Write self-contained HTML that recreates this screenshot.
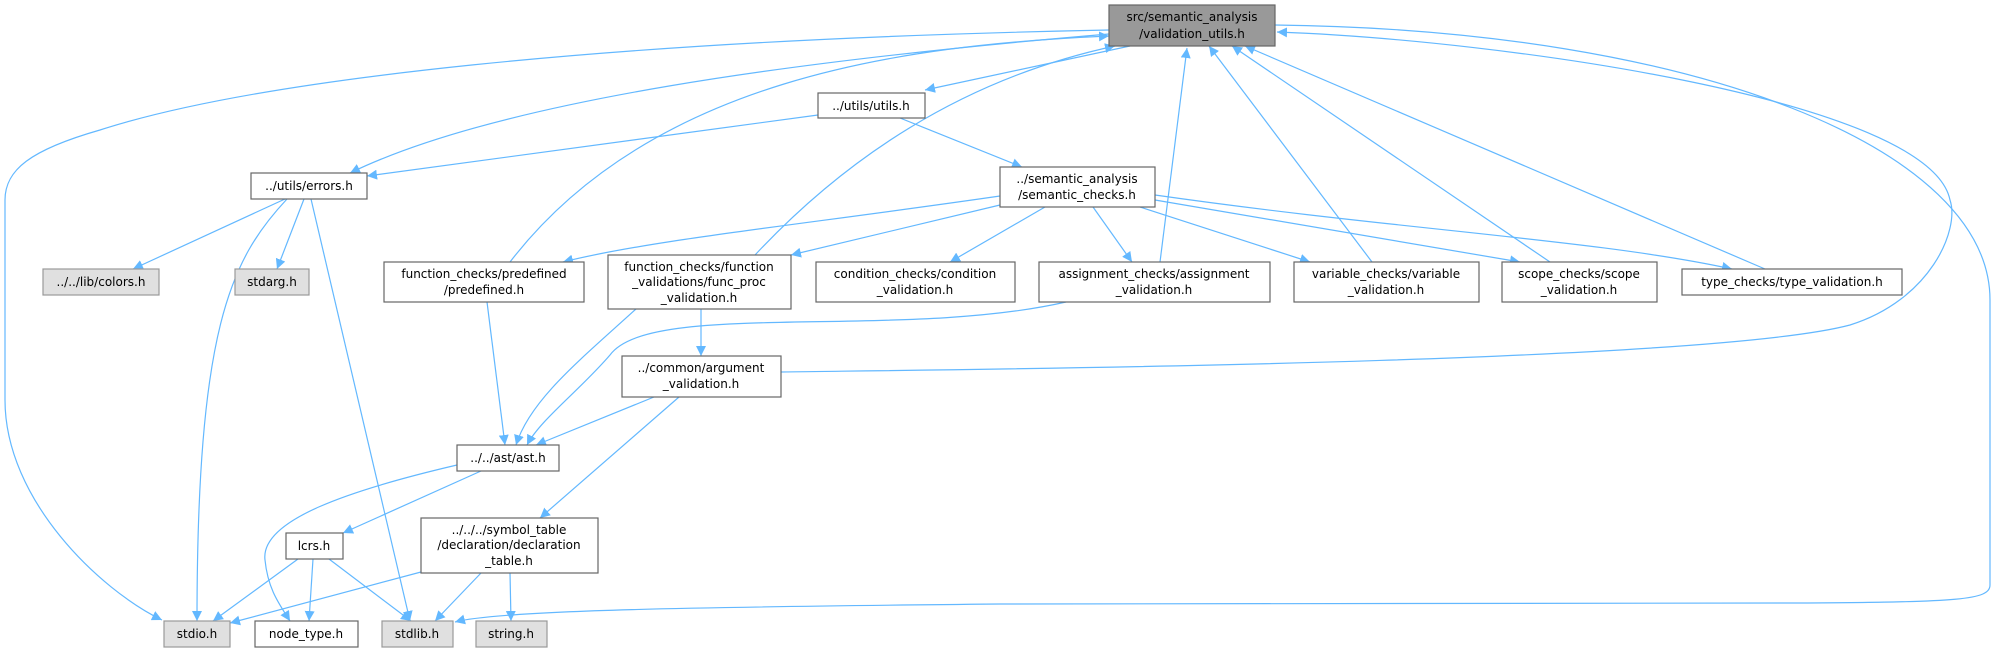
<!DOCTYPE html>
<html><head><meta charset="utf-8"><style>html,body{margin:0;padding:0;background:#fff;}svg{display:block}</style></head>
<body>
<svg width="1996" height="652" viewBox="0 0 1996 652" xmlns="http://www.w3.org/2000/svg" font-family="DejaVu Sans, Liberation Sans, sans-serif" font-size="12">
<defs>
<marker id="a" viewBox="0 0 10 10" refX="10" refY="5" markerWidth="10" markerHeight="10" markerUnits="userSpaceOnUse" orient="auto">
<path d="M0,0 L10,5 L0,10 z" fill="#63b8ff"/></marker>
</defs>
<g fill="none" stroke="#63b8ff" stroke-width="1.2" marker-end="url(#a)">
<path d="M1109,30 C600,40 255,80 100,130 C30,150 5,170 5,200 L5,400 C5,500 100,590 162,620"/>
<path d="M1275,25 C1700,30 1990,150 1990,300 L1990,585 C1990,600 1960,602 1800,603 L1000,604 C700,607 500,610 455,622"/>
<path d="M781,372 C900,370 1700,365 1850,325 C1930,300 1960,230 1950,200 C1930,100 1500,40 1277,32"/>
<path d="M1130,46 L925,90"/>
<path d="M1109,34 C800,60 500,100 350,173"/>
<path d="M510,262 C650,80 900,45 1109,36"/>
<path d="M755,255 C900,100 1050,60 1115,46"/>
<path d="M1160,262 L1187,48"/>
<path d="M1372,262 L1209,46"/>
<path d="M1550,262 L1232,46"/>
<path d="M1765,269 L1245,46"/>
<path d="M818,115 L367,176"/>
<path d="M900,118 L1022,167"/>
<path d="M1000,196 C800,225 650,240 563,262"/>
<path d="M1000,205 L791,255"/>
<path d="M1045,207 L950,262"/>
<path d="M1093,207 L1132,262"/>
<path d="M1140,207 L1310,262"/>
<path d="M1155,200 L1520,262"/>
<path d="M1155,195 C1400,230 1600,240 1732,269"/>
<path d="M285,199 L133,269"/>
<path d="M287,199 C230,260 197,330 197,621"/>
<path d="M304,199 L277,269"/>
<path d="M311,199 L410,621"/>
<path d="M487,302 L505,445"/>
<path d="M636,309 C580,360 530,400 516,445"/>
<path d="M701,309 L701,356"/>
<path d="M1066,302 C900,340 650,300 610,355 C580,390 540,420 527,445"/>
<path d="M654,397 L536,445"/>
<path d="M679,397 L540,518"/>
<path d="M481,471 L343,533"/>
<path d="M457,465 C350,490 260,520 265,560 C268,590 280,605 290,621"/>
<path d="M298,559 L213,621"/>
<path d="M313,559 L309,621"/>
<path d="M329,559 L411,621"/>
<path d="M421,572 L230,623"/>
<path d="M481,573 L435,621"/>
<path d="M510,573 L511,621"/>
</g>
<g stroke-width="1.2">
<rect x="1109" y="5" width="166" height="41" fill="#999" stroke="#666"/>
<rect x="818" y="93" width="107" height="25" fill="#fff" stroke="#666"/>
<rect x="251" y="173" width="116" height="26" fill="#fff" stroke="#666"/>
<rect x="1000" y="167" width="155" height="40" fill="#fff" stroke="#666"/>
<rect x="43" y="269" width="116" height="26" fill="#e0e0e0" stroke="#999"/>
<rect x="235" y="269" width="74" height="26" fill="#e0e0e0" stroke="#999"/>
<rect x="384" y="262" width="200" height="40" fill="#fff" stroke="#666"/>
<rect x="608" y="255" width="183" height="54" fill="#fff" stroke="#666"/>
<rect x="816" y="262" width="199" height="40" fill="#fff" stroke="#666"/>
<rect x="1039" y="262" width="231" height="40" fill="#fff" stroke="#666"/>
<rect x="1294" y="262" width="185" height="40" fill="#fff" stroke="#666"/>
<rect x="1502" y="262" width="155" height="40" fill="#fff" stroke="#666"/>
<rect x="1682" y="269" width="220" height="26" fill="#fff" stroke="#666"/>
<rect x="622" y="356" width="159" height="41" fill="#fff" stroke="#666"/>
<rect x="457" y="445" width="102" height="26" fill="#fff" stroke="#666"/>
<rect x="286" y="533" width="57" height="26" fill="#fff" stroke="#666"/>
<rect x="421" y="518" width="177" height="55" fill="#fff" stroke="#666"/>
<rect x="164" y="621" width="66" height="26" fill="#e0e0e0" stroke="#999"/>
<rect x="255" y="621" width="103" height="26" fill="#fff" stroke="#666"/>
<rect x="382" y="621" width="71" height="26" fill="#e0e0e0" stroke="#999"/>
<rect x="476" y="621" width="71" height="26" fill="#e0e0e0" stroke="#999"/>
</g>
<g fill="#000" text-anchor="middle">
<text x="1192" y="21">src/semantic_analysis</text><text x="1192" y="38">/validation_utils.h</text>
<text x="871" y="110">../utils/utils.h</text>
<text x="309" y="190">../utils/errors.h</text>
<text x="1077" y="183">../semantic_analysis</text><text x="1077" y="199">/semantic_checks.h</text>
<text x="101" y="286">../../lib/colors.h</text>
<text x="272" y="286">stdarg.h</text>
<text x="484" y="278">function_checks/predefined</text><text x="484" y="294">/predefined.h</text>
<text x="699" y="271">function_checks/function</text><text x="699" y="286">_validations/func_proc</text><text x="699" y="302">_validation.h</text>
<text x="915" y="278">condition_checks/condition</text><text x="915" y="294">_validation.h</text>
<text x="1154" y="278">assignment_checks/assignment</text><text x="1154" y="294">_validation.h</text>
<text x="1386" y="278">variable_checks/variable</text><text x="1386" y="294">_validation.h</text>
<text x="1579" y="278">scope_checks/scope</text><text x="1579" y="294">_validation.h</text>
<text x="1792" y="286">type_checks/type_validation.h</text>
<text x="701" y="372">../common/argument</text><text x="701" y="388">_validation.h</text>
<text x="508" y="462">../../ast/ast.h</text>
<text x="314" y="550">lcrs.h</text>
<text x="509" y="534">../../../symbol_table</text><text x="509" y="549">/declaration/declaration</text><text x="509" y="565">_table.h</text>
<text x="197" y="638">stdio.h</text>
<text x="306" y="638">node_type.h</text>
<text x="417" y="638">stdlib.h</text>
<text x="511" y="638">string.h</text>
</g>
</svg>
</body></html>
